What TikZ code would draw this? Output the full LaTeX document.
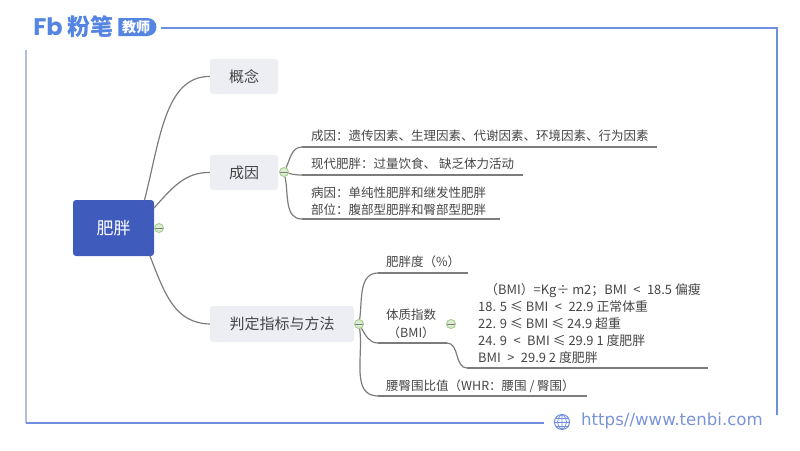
\documentclass[tikz,border=0pt]{standalone}
\usepackage{fontspec}
\setmainfont{Noto Sans CJK SC}
\newfontfamily\urlfont{DejaVu Sans}
\newfontfamily\logofont{Poppins}
\usepackage{tikz}
\usetikzlibrary{shapes.misc}
\definecolor{framecol}{HTML}{6F8FDD}
\definecolor{paleframe}{HTML}{B3BEDC}
\definecolor{logocol}{HTML}{5585E3}
\definecolor{rootcol}{HTML}{3F5CBD}
\definecolor{boxcol}{HTML}{ECEEF4}
\definecolor{linecol}{HTML}{7C7C7C}
\definecolor{textcol}{HTML}{454545}
\definecolor{foldcol}{HTML}{A5CF8F}
\definecolor{foldfill}{HTML}{DDEBD3}
\definecolor{urlcol}{HTML}{7A93D8}

\begin{document}
\begin{tikzpicture}[x=1pt,y=-1pt,-,
    root node/.style={rectangle,rounded corners=3pt,fill=rootcol,text=white,font=\fontsize{17}{20}\selectfont,minimum width=81pt,minimum height=56pt},
    main node/.style={rectangle,rounded corners=3pt,fill=boxcol,text=textcol,font=\fontsize{15}{18}\selectfont,minimum height=35pt},
    leaf node/.style={anchor=west,align=left,inner sep=0pt,text=textcol,font=\fontsize{12.5}{17.5}\selectfont},
    fold node/.style={circle,draw=foldcol,fill=foldfill,line width=0.9pt,inner sep=0pt,minimum size=9pt,
      path picture={\draw[linecol,line width=0.7pt] (path picture bounding box.west) -- (path picture bounding box.east);}},
    branch/.style={draw=linecol,line width=1.2pt}]
    \useasboundingbox (0,0) rectangle (800,450);
    %frame
    \draw[framecol,line width=1.3pt] (161,28) -- (777,28) -- (777,415);
    \draw[paleframe,line width=1.3pt] (26,50) -- (26,423);
    \draw[framecol,line width=1.3pt] (26,423) -- (544,423);
    %logo
    \node[inner sep=0pt,text=logocol,font=\logofont\fontsize{24}{24}\selectfont\bfseries] (fb) at (48,27) {Fb};
    \node[inner sep=0pt,text=logocol,font=\fontsize{23}{23}\selectfont\bfseries] (fenbi) at (90,27) {粉笔};
    \node[rounded rectangle,rounded rectangle west arc=none,fill=logocol,text=white,inner sep=0pt,minimum width=38pt,minimum height=18pt,font=\fontsize{14}{14}\selectfont\bfseries] (teacher) at (136,27) {教师};
    %nodes
    \node[root node] (root) at (113.5,228) {肥胖};
    \node[fold node] (rootfold) at (159,228) {};
    \node[main node,minimum width=68pt] (concept) at (244,76.5) {概念};
    \node[main node,minimum width=68pt] (cause) at (244,172.5) {成因};
    \node[main node,minimum width=144pt,minimum height=36pt] (method) at (282,324) {判定指标与方法};
    \node[fold node] (causefold) at (284,172) {};
    \node[fold node] (methodfold) at (359,324) {};
    \node[fold node] (bmifold) at (451,324) {};
    %leaves
    \node[leaf node] (why) at (311,136) {成因：遗传因素、生理因素、代谢因素、环境因素、行为因素};
    \node[leaf node] (modern) at (311,164) {现代肥胖：过量饮食、 缺乏体力活动};
    \node[leaf node] (kind) at (311,201) {病因：单纯性肥胖和继发性肥胖\\部位：腹部型肥胖和臀部型肥胖};
    \node[leaf node] (degree) at (386,262) {肥胖度（\%）};
    \node[leaf node,align=center] (bmi) at (386,324) {体质指数\\（BMI）};
    \node[leaf node,font=\fontsize{12.9}{17}\selectfont] (bmitext) at (478,324) {\hspace*{7pt}（BMI）=Kg÷ m2；BMI\enspace<\enspace 18.5 偏瘦\\18. 5 ≤ BMI\enspace<\enspace 22.9 正常体重\\22. 9 ≤ BMI ≤ 24.9 超重\\24. 9\enspace<\enspace BMI ≤ 29.9 1 度肥胖\\BMI\enspace>\enspace 29.9 2 度肥胖};
    \node[leaf node] (whr) at (386,386) {腰臀围比值（WHR：腰围 / 臀围）};
    %line ends
    \coordinate (rootup) at (144.5,200);
    \coordinate (rootmid) at (154,208);
    \coordinate (rootdown) at (150,256);
    \coordinate (whya) at (302,147);
    \coordinate (whyb) at (657,147);
    \coordinate (moderna) at (302,175);
    \coordinate (modernb) at (523,175);
    \coordinate (kinda) at (302,219);
    \coordinate (kindb) at (500,219);
    \coordinate (degreea) at (378,273);
    \coordinate (degreeb) at (468,273);
    \coordinate (bmia) at (378,343);
    \coordinate (bmib) at (447,343);
    \coordinate (bmic) at (467,368);
    \coordinate (bmid) at (708,368);
    \coordinate (whra) at (378,396);
    \coordinate (whrb) at (587,396);
    %connectors
    \path[branch] (rootup) .. controls (160,140) and (165,76) .. (concept.west);
    \path[branch] (rootmid) .. controls (172,188) and (185,172) .. (cause.west);
    \path[branch] (rootdown) .. controls (165,295) and (175,323) .. (method.west);
    \path[branch] (causefold) edge[out=65,in=180] (whya);
    \path[branch] (whya) edge (whyb);
    \path[branch] (causefold) edge[out=-15,in=180] (moderna);
    \path[branch] (moderna) edge (modernb);
    \path[branch] (causefold) edge[out=-78,in=180] (kinda);
    \path[branch] (kinda) edge (kindb);
    \path[branch] (methodfold) edge[out=82,in=180] (degreea);
    \path[branch] (degreea) edge (degreeb);
    \path[branch] (methodfold) edge[out=-60,in=180] (bmia);
    \path[branch] (bmia) edge (bmib);
    \path[branch] (bmib) edge[out=0,in=180] (bmic);
    \path[branch] (bmic) edge (bmid);
    \path[branch] (methodfold) edge[out=-82,in=180] (whra);
    \path[branch] (whra) edge (whrb);
    %web address
    \node[circle,draw=framecol,line width=1pt,inner sep=0pt,minimum size=15pt] (globe) at (562,422) {};
    \draw[framecol,line width=0.7pt] (globe.west) -- (globe.east) (555.5,418) -- (568.5,418) (555.5,426) -- (568.5,426);
    \draw[framecol,line width=0.7pt] (globe.north) -- (globe.south) (562,414.5) .. controls (556,418) and (556,426) .. (562,429.5) (562,414.5) .. controls (568,418) and (568,426) .. (562,429.5);
    \node[anchor=west,inner sep=0pt,text=urlcol,font=\urlfont\fontsize{16.6}{18}\selectfont] (url) at (581,421) {https//www.tenbi.com};
\end{tikzpicture}
\end{document}
